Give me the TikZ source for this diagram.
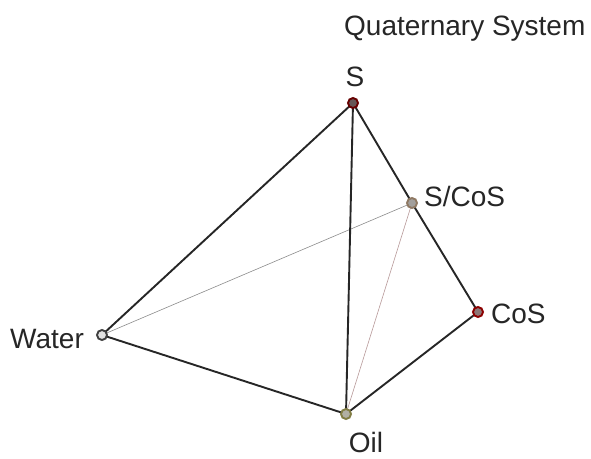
\documentclass[tikz,border=0pt]{standalone}
\usepackage{fontspec}
\setmainfont{Liberation Sans}
\begin{document}
\begin{tikzpicture}[x=1pt,y=-1pt,
  vtx/.style={circle,draw=#1,line width=1.9pt,fill=white!85!#1,inner sep=0pt,minimum size=10pt},
  thickedge/.style={line width=1.9pt,black!85},
  thinedge/.style={line width=0.6pt,#1},
  lbl/.style={inner sep=0pt,font=\fontsize{28}{33}\selectfont,text=black!85}]
\useasboundingbox[fill=white] (0,0) rectangle (591,458);
\coordinate (pS) at (353,103);
\coordinate (pSC) at (412,203);
\coordinate (pC) at (478,312);
\coordinate (pW) at (102,335);
\coordinate (pO) at (346,414);
% edges
\draw[thinedge=black!45] (pW) -- (pSC);
\draw[thinedge=red!30!black!40] (pO) -- (pSC);
\draw[thickedge] (pS) -- (pW);
\draw[thickedge] (pS) -- (pO);
\draw[thickedge] (pS) -- (pSC);
\draw[thickedge] (pSC) -- (pC);
\draw[thickedge] (pC) -- (pO);
\draw[thickedge] (pW) -- (pO);
% vertices
\node[vtx=red!40!black] (S) at (pS) {};
\node[vtx=brown!50!black!70] (SC) at (pSC) {};
\node[vtx=red!55!black] (C) at (pC) {};
\node[vtx=black!75] (W) at (pW) {};
\node[vtx=olive!60!black!80] (O) at (pO) {};
% labels
\node[lbl,anchor=base] (tS) at (355,86) {S};
\node[lbl,anchor=base west] (tSC) at (424,206) {S/CoS};
\node[lbl,anchor=base west] (tC) at (491,323) {CoS};
\node[lbl,anchor=base west] (tW) at (10,348) {Water};
\node[lbl,anchor=base] (tO) at (366,452) {Oil};
\node[lbl,anchor=base west] (title) at (344,35) {Quaternary System};
\end{tikzpicture}
\end{document}
